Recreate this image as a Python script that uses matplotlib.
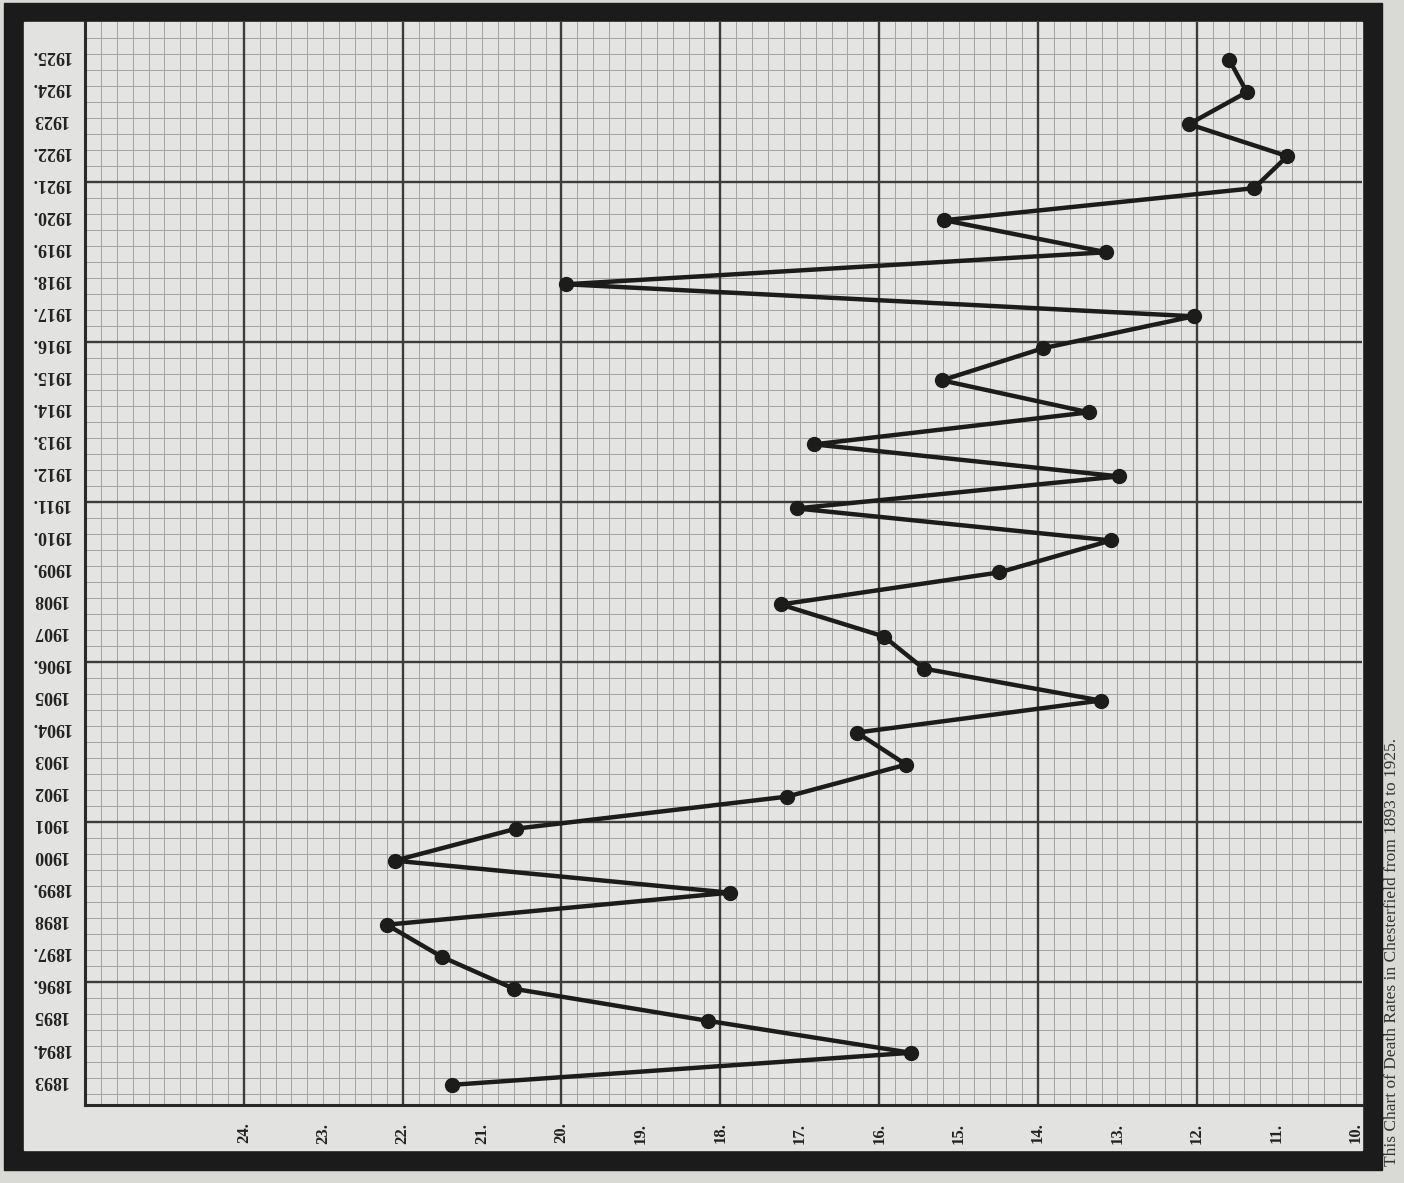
import matplotlib.pyplot as plt
import matplotlib.transforms as mtransforms
from matplotlib.patches import Rectangle
import numpy as np

# Death rates in Chesterfield 1893-1925, drawn sideways like the scanned page
years = list(range(1893, 1926))
rates = [21.38, 15.60, 18.16, 20.60, 21.51, 22.20, 17.88, 22.10, 20.57, 17.16,
         15.66, 16.28, 13.21, 15.44, 15.94, 17.24, 14.49, 13.08, 17.04, 12.98,
         16.82, 13.36, 15.21, 13.94, 12.04, 19.94, 13.14, 15.18, 11.28, 10.86,
         12.10, 11.37, 11.59]
year_labels = ["1893", "1894.", "1895", "1896.", "1897.", "1898", "1899.", "1900",
               "1901", "1902", "1903", "1904.", "1905", "1906.", "1907", "1908",
               "1909.", "1910.", "1911.", "1912.", "1913.", "1914.", "1915.", "1916.",
               "1917.", "1918.", "1919.", "1920.", "1921.", "1922.", "1923", "1924.",
               "1925."]
rate_ticks = [24, 23, 22, 21, 20, 19, 18, 17, 16, 15, 14, 13, 12, 11, 10]
rate_labels = ["24.", "23.", "22.", "21.", "20.", "19.", "18.", "17.", "16.",
               "15.", "14.", "13.", "12.", "11.", "10."]
caption = "This Chart of Death Rates in Chesterfield from 1893 to 1925."

W, H = 1404, 1183
fig = plt.figure(figsize=(W / 100, H / 100), dpi=100)
fig.patch.set_facecolor('#d9d9d6')


def fx(px):
    return px / W


def fy(py):
    return 1 - py / H


# black frame and light card (behind the axes)
fig.patches.append(Rectangle((fx(4), fy(1170)), (1382 - 4) / W, (1170 - 3) / H,
                             transform=fig.transFigure, color='#1b1b1b', zorder=-2))
fig.patches.append(Rectangle((fx(24), fy(1150)), (1362 - 24) / W, (1150 - 22) / H,
                             transform=fig.transFigure, color='#e2e2e0', zorder=-1))

ax = fig.add_axes([fx(85), fy(1105), (1362 - 85) / W, (1105 - 22) / H])
ax.set_zorder(1)
ax.set_facecolor('#e4e5e3')
ax.set_xlim(26.0, 9.92)
ax.set_ylim(1892.37, 1926.19)

# squared paper
for v in np.arange(10, 26.01, 0.2):
    ax.axvline(v, color='#a2a2a2', linewidth=0.7, zorder=1)
for y in np.arange(1892.7, 1926.2, 0.5):
    ax.axhline(y, color='#a2a2a2', linewidth=0.7, zorder=1)
for v in range(12, 26, 2):
    ax.axvline(v, color='#3c3c3c', linewidth=1.7, zorder=2)
for y in np.arange(1896.2, 1926.0, 5):
    ax.axhline(y, color='#3c3c3c', linewidth=1.7, zorder=2)

ax.plot(rates, years, color='#1c1c1c', linewidth=3.2, marker='o', markersize=10, zorder=5)

ax.set_xticks([])
ax.set_yticks([])
for s in ['top', 'right']:
    ax.spines[s].set_visible(False)
for s in ['left', 'bottom']:
    ax.spines[s].set_linewidth(2.2)
    ax.spines[s].set_color('#2a2a2a')

# upside-down year labels in the left strip
ytrans = mtransforms.blended_transform_factory(fig.transFigure, ax.transData)
for yr, lab in zip(years, year_labels):
    ax.text(fx(50), yr + 0.15, lab, transform=ytrans, rotation=180,
            ha='center', va='center', fontsize=13, fontweight='bold',
            family='Liberation Serif', color='#222222', clip_on=False)

# sideways rate labels in the bottom strip
xtrans = mtransforms.blended_transform_factory(ax.transData, fig.transFigure)
for v, lab in zip(rate_ticks, rate_labels):
    ax.text(v, fy(1133), lab, transform=xtrans, rotation=90,
            ha='center', va='center', fontsize=12, fontweight='bold',
            family='Liberation Serif', color='#222222', clip_on=False)

fig.text(fx(1384), fy(1166), caption, rotation=90, ha='left', va='bottom',
         fontsize=12.5, family='Liberation Serif', color='#333333')

fig.savefig('out.png', dpi=100, facecolor=fig.get_facecolor())
